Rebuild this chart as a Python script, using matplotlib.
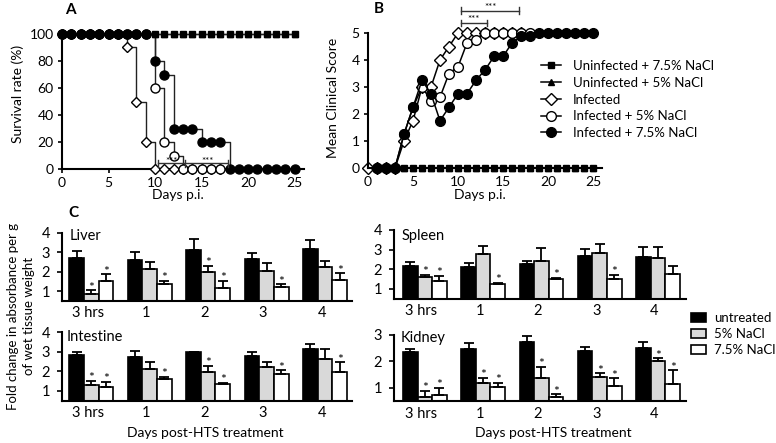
import matplotlib
matplotlib.use('Agg')
import matplotlib.pyplot as plt
import numpy as np
from matplotlib.lines import Line2D
from matplotlib.patches import Patch

plt.rcParams['font.family'] = ['Lato', 'DejaVu Sans']

# ---------------- data: panel A (survival %) ----------------
days_all = [0, 1, 2, 3, 4, 5, 6, 7, 8, 9, 10, 11, 12, 13, 14, 15, 16, 17, 18, 19, 20, 21, 22, 23, 24, 25]
days_inf = [0, 1, 2, 3, 4, 5, 6, 7, 8, 9, 10, 11, 12, 13, 14, 15, 16, 17]
surv_uninf75 = [100, 100, 100, 100, 100, 100, 100, 100, 100, 100, 100, 100, 100,
                100, 100, 100, 100, 100, 100, 100, 100, 100, 100, 100, 100, 100]
surv_uninf5 = [100, 100, 100, 100, 100, 100, 100, 100, 100, 100, 100, 100, 100,
               100, 100, 100, 100, 100, 100, 100, 100, 100, 100, 100, 100, 100]
surv_inf = [100, 100, 100, 100, 100, 100, 100, 90, 50, 20, 0, 0, 0, 0, 0, 0, 0, 0]
surv_inf5 = [100, 100, 100, 100, 100, 100, 100, 100, 100, 100, 60, 20, 10, 0, 0, 0, 0, 0]
surv_inf75 = [100, 100, 100, 100, 100, 100, 100, 100, 100, 100, 80, 70, 30, 30, 30, 20,
              20, 20, 0, 0, 0, 0, 0, 0, 0, 0]

# ---------------- data: panel B (mean clinical score) ----------------
days_B_uninf = [1, 2, 3, 4, 5, 6, 7, 8, 9, 10, 11, 12, 13, 14, 15, 16, 17, 18, 19, 20, 21, 22, 23, 24, 25]
score_uninf75 = [0, 0, 0, 0, 0, 0, 0, 0, 0, 0, 0, 0, 0, 0, 0, 0, 0, 0, 0, 0, 0, 0, 0, 0, 0]
score_uninf5 = [0, 0, 0, 0, 0, 0, 0, 0, 0, 0, 0, 0, 0, 0, 0, 0, 0, 0, 0, 0, 0, 0, 0, 0, 0]
days_B_inf = [0, 1, 2, 3, 4, 5, 6, 7, 8, 9, 10, 11, 12, 13, 14, 15, 16, 17]
score_inf = [0, 0, 0, 0, 1.0, 1.75, 3.0, 3.0, 4.0, 4.5, 5, 5, 5, 5, 5, 5, 5, 5]
days_B_inf5 = [1, 2, 3, 4, 5, 6, 7, 8, 9, 10, 11, 12, 13, 14, 15, 16, 17, 18]
score_inf5 = [0, 0, 0, 1.25, 2.25, 3.0, 2.5, 2.62, 3.5, 3.75, 4.63, 4.75, 5, 5, 5, 5, 5, 5]
days_B_inf75 = [1, 2, 3, 4, 5, 6, 7, 8, 9, 10, 11, 12, 13, 14, 15, 16, 17, 18, 19, 20, 21, 22, 23, 24, 25]
score_inf75 = [0, 0, 0, 1.25, 2.25, 3.25, 2.75, 1.75, 2.25, 2.75, 2.75, 3.25, 3.63, 4.13,
               4.13, 4.63, 4.88, 4.88, 5, 5, 5, 5, 5, 5, 5]

legend_labels = ['Uninfected + 7.5% NaCl', 'Uninfected + 5% NaCl', 'Infected',
                 'Infected + 5% NaCl', 'Infected + 7.5% NaCl']

# ---------------- data: panel C (fold change) ----------------
c_categories = ['3 hrs', '1', '2', '3', '4']
c_series = ['untreated', '5% NaCl', '7.5% NaCl']

liver_untr = [2.72, 2.60, 3.12, 2.64, 3.17]
liver_untr_err = [0.34, 0.43, 0.55, 0.34, 0.47]
liver_5 = [0.83, 2.14, 2.00, 2.05, 2.26]
liver_5_err = [0.22, 0.38, 0.31, 0.38, 0.29]
liver_75 = [1.53, 1.36, 1.14, 1.22, 1.55]
liver_75_err = [0.34, 0.17, 0.40, 0.14, 0.36]
liver_5_sig = [1, 0, 1, 0, 0]
liver_75_sig = [1, 1, 1, 1, 1]

spleen_untr = [2.17, 2.14, 2.25, 2.68, 2.64]
spleen_untr_err = [0.22, 0.17, 0.19, 0.34, 0.51]
spleen_5 = [1.59, 2.76, 2.42, 2.81, 2.59]
spleen_5_err = [0.12, 0.44, 0.68, 0.47, 0.52]
spleen_75 = [1.42, 1.24, 1.51, 1.51, 1.75]
spleen_75_err = [0.25, 0.08, 0.07, 0.20, 0.43]
spleen_5_sig = [1, 0, 0, 0, 0]
spleen_75_sig = [1, 1, 1, 1, 0]

intestine_untr = [2.83, 2.75, 2.97, 2.78, 3.12]
intestine_untr_err = [0.14, 0.29, 0.03, 0.22, 0.27]
intestine_5 = [1.31, 2.10, 1.98, 2.20, 2.61]
intestine_5_err = [0.20, 0.36, 0.31, 0.29, 0.52]
intestine_75 = [1.22, 1.59, 1.34, 1.86, 1.98]
intestine_75_err = [0.25, 0.14, 0.08, 0.20, 0.49]
intestine_5_sig = [1, 0, 1, 0, 0]
intestine_75_sig = [1, 1, 1, 1, 1]

kidney_untr = [2.37, 2.46, 2.72, 2.39, 2.50]
kidney_untr_err = [0.10, 0.23, 0.24, 0.16, 0.25]
kidney_5 = [0.66, 1.20, 1.39, 1.42, 2.03]
kidney_5_err = [0.22, 0.18, 0.41, 0.13, 0.09]
kidney_75 = [0.72, 1.04, 0.66, 1.08, 1.13]
kidney_75_err = [0.28, 0.15, 0.10, 0.28, 0.54]
kidney_5_sig = [1, 1, 1, 1, 1]
kidney_75_sig = [1, 1, 1, 1, 1]

# ---------------- layout helpers ----------------
W, H = 776, 443
fig = plt.figure(figsize=(W / 100, H / 100), dpi=100)


def add_ax(l, t, r, b):
    return fig.add_axes([l / W, 1 - b / H, (r - l) / W, (b - t) / H])


def ftext(x, y, s, **kw):
    return fig.text(x / W, 1 - y / H, s, **kw)


def style_axes(ax, fs=10):
    for s in ['top', 'right']:
        ax.spines[s].set_visible(False)
    for s in ['left', 'bottom']:
        ax.spines[s].set_linewidth(1.5)
    ax.tick_params(direction='out', length=3, width=1.2, labelsize=fs, pad=3)


LW_LINE = 1.0
# ---------------- Panel A ----------------
axA = add_ax(62, 34, 304, 169)
style_axes(axA)
axA.set_xlim(0, 26)
axA.set_ylim(0, 100)
axA.set_xticks([0, 5, 10, 15, 20, 25])
axA.set_yticks([0, 20, 40, 60, 80, 100])

a_series = [
    (days_all, surv_uninf5, dict(marker='^', mfc='black', ms=4.5)),
    (days_all, surv_uninf75, dict(marker='s', mfc='black', ms=4)),
    (days_inf, surv_inf, dict(marker='D', mfc='white', ms=5.5)),
    (days_inf, surv_inf5, dict(marker='o', mfc='white', ms=6.5)),
    (days_all, surv_inf75, dict(marker='o', mfc='black', ms=6.5)),
]
for x, y, mk in a_series:
    axA.step(x, y, where='post', color='#222222', lw=LW_LINE, clip_on=False, zorder=2)
    axA.plot(x, y, ls='none', mec='black', mew=1.0, clip_on=False, zorder=3, **mk)

# significance bracket A
yb = 4.2
axA.plot([10.3, 17.8], [yb, yb], color='#333333', lw=1.0, clip_on=False, zorder=4)
for xv in [10.3, 13.2, 17.8]:
    axA.plot([xv, xv], [yb - 2.5, yb + 2.5], color='#333333', lw=1.0, clip_on=False, zorder=4)
axA.text(11.8, yb + 1.5, '***', ha='center', va='center', fontsize=7, zorder=6)
axA.text(15.6, yb + 1.5, '***', ha='center', va='center', fontsize=7, zorder=6)

ftext(65, 10, 'A', fontsize=11, fontweight='bold', ha='left', va='center')
ftext(18, 94, 'Survival rate (%)', rotation=90, fontsize=10, ha='center', va='center')
ftext(178, 195, 'Days p.i.', fontsize=10, ha='center', va='center')

# ---------------- Panel B ----------------
axB = add_ax(368, 33, 602, 168)
style_axes(axB)
axB.set_xlim(0, 26)
axB.set_ylim(0, 5)
axB.set_xticks([0, 5, 10, 15, 20, 25])
axB.set_yticks([0, 1, 2, 3, 4, 5])

b_series = [
    (days_B_uninf, score_uninf75, dict(marker='s', mfc='black', ms=4)),
    (days_B_uninf, score_uninf5, dict(marker='^', mfc='black', ms=4.5)),
    (days_B_inf, score_inf, dict(marker='D', mfc='white', ms=6)),
    (days_B_inf5, score_inf5, dict(marker='o', mfc='white', ms=7)),
    (days_B_inf75, score_inf75, dict(marker='o', mfc='black', ms=7)),
]
handles = []
for (x, y, mk), lab in zip(b_series, legend_labels):
    axB.plot(x, y, color='black', lw=1.1, mec='black', mew=1.0, clip_on=False, **mk)
    handles.append(Line2D([], [], color='black', lw=1.1, mec='black', mew=1.0, **mk))

for x0, x1, yv, xt, ytxt in [(10.3, 13.2, 5.38, 11.7, 5.49), (10.3, 16.8, 5.83, 13.6, 5.93)]:
    axB.plot([x0, x1], [yv, yv], color='#333333', lw=1.0, clip_on=False)
    for xv in [x0, x1]:
        axB.plot([xv, xv], [yv - 0.12, yv + 0.12], color='#333333', lw=1.0, clip_on=False)
    axB.text(xt, ytxt, '***', ha='center', va='center', fontsize=7)

legB = fig.legend(handles, legend_labels, loc='upper left',
                  bbox_to_anchor=(541 / W, 1 - 60 / H), frameon=False, fontsize=9.5,
                  handlelength=1.5, handletextpad=0.9, labelspacing=0.36,
                  borderpad=0, borderaxespad=0)

ftext(374, 9, 'B', fontsize=11, fontweight='bold', ha='left', va='center')
ftext(333, 98, 'Mean Clinical Score', rotation=90, fontsize=10, ha='center', va='center')
ftext(480, 195, 'Days p.i.', fontsize=10, ha='center', va='center')

# ---------------- Panel C ----------------
ftext(68, 213, 'C', fontsize=11, fontweight='bold', ha='left', va='center')
ftext(21, 316, 'Fold change in absorbance per g\nof wet tissue weight', rotation=90,
      fontsize=9.5, ha='center', va='center', linespacing=1.35, multialignment='center')

BW = 0.25
x = np.arange(len(c_categories))


def bar_panel(box, xlim, ylim, yticks, name, name_xy, vals, sig5, sig75):
    ax = add_ax(*box)
    style_axes(ax, fs=10.5)
    ax.tick_params(axis='x', length=0, pad=4)
    ax.tick_params(axis='y', pad=5, length=3.5)
    untr, eu, s5, e5, s75, e75 = vals
    ax.bar(x - BW, untr, BW, color='black', edgecolor='black', lw=1.2)
    ax.bar(x, s5, BW, color='#d9d9d9', edgecolor='black', lw=1.2)
    ax.bar(x + BW, s75, BW, color='white', edgecolor='black', lw=1.2)
    for off, v, e in [(-BW, untr, eu), (0, s5, e5), (BW, s75, e75)]:
        ax.errorbar(x + off, v, yerr=[np.zeros(len(v)), e], fmt='none', ecolor='black',
                    elinewidth=1.3, capsize=3.5, capthick=1.3, clip_on=False)
    for off, v, e, sg in [(0, s5, e5, sig5), (BW, s75, e75, sig75)]:
        for i in range(len(v)):
            if sg[i]:
                ax.annotate('*', (x[i] + off, v[i] + e[i]), xytext=(0, -2.5),
                            textcoords='offset points', ha='center', va='bottom',
                            fontsize=10, annotation_clip=False)
    ax.set_xlim(*xlim)
    ax.set_ylim(*ylim)
    ax.set_yticks(yticks)
    ax.set_xticks(x - 0.06)
    ax.set_xticklabels(c_categories)
    ftext(name_xy[0], name_xy[1], name, fontsize=10.5, ha='left', va='center')
    return ax


left_xlim = (-0.50, 4.46)
right_xlim = (-0.53, 4.48)

bar_panel((62, 233, 352, 300.7), left_xlim, (0.5, 4), [1, 2, 3, 4], 'Liver', (70, 236),
          (liver_untr, liver_untr_err, liver_5, liver_5_err, liver_75, liver_75_err),
          liver_5_sig, liver_75_sig)
bar_panel((394, 230, 686, 298.8), right_xlim, (0.5, 4), [1, 2, 3, 4], 'Spleen', (402, 236),
          (spleen_untr, spleen_untr_err, spleen_5, spleen_5_err, spleen_75, spleen_75_err),
          spleen_5_sig, spleen_75_sig)
bar_panel((62, 332, 352, 400.8), left_xlim, (0.5, 4), [1, 2, 3, 4], 'Intestine', (67, 337),
          (intestine_untr, intestine_untr_err, intestine_5, intestine_5_err, intestine_75,
           intestine_75_err), intestine_5_sig, intestine_75_sig)
bar_panel((394, 335, 686, 401), right_xlim, (0.5, 3), [1, 2, 3], 'Kidney', (401, 338),
          (kidney_untr, kidney_untr_err, kidney_5, kidney_5_err, kidney_75, kidney_75_err),
          kidney_5_sig, kidney_75_sig)

ftext(205, 433, 'Days post-HTS treatment', fontsize=10, ha='center', va='center')
ftext(553, 433, 'Days post-HTS treatment', fontsize=10, ha='center', va='center')

c_handles = [Patch(facecolor='black', edgecolor='black', lw=1.2),
             Patch(facecolor='#d9d9d9', edgecolor='black', lw=1.2),
             Patch(facecolor='white', edgecolor='black', lw=1.2)]
fig.legend(c_handles, c_series, loc='upper left', bbox_to_anchor=(691 / W, 1 - 312 / H),
           frameon=False, fontsize=9.5, handlelength=1.15, handleheight=0.7,
           handletextpad=0.6, labelspacing=0.3, borderpad=0, borderaxespad=0)

fig.savefig('out.png', dpi=100)
